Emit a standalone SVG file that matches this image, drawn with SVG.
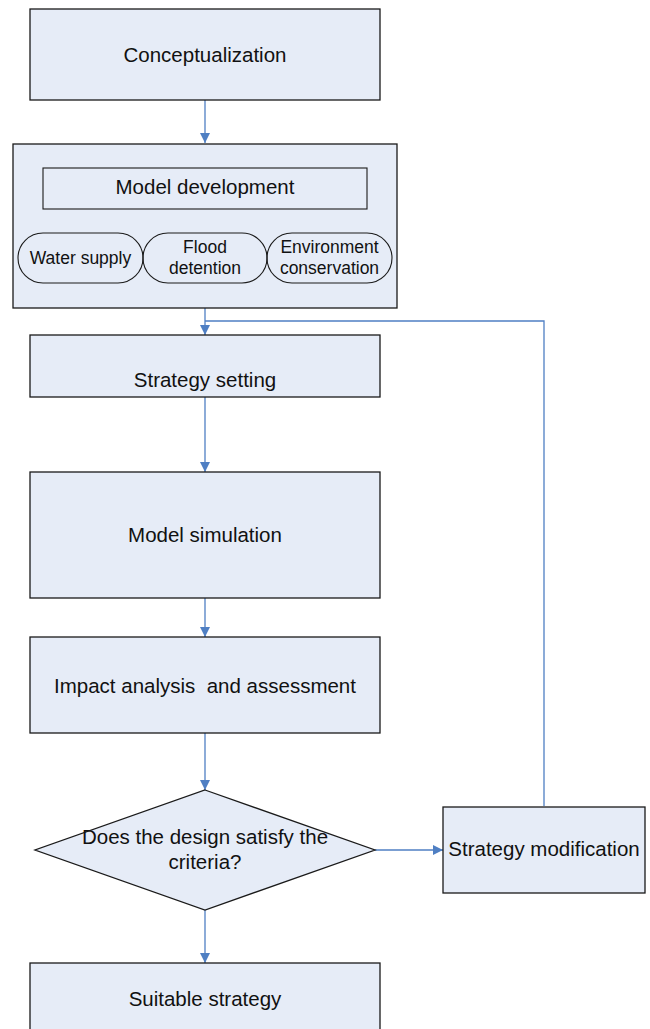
<svg xmlns="http://www.w3.org/2000/svg" width="650" height="1029" viewBox="0 0 650 1029">
<style>
.box{fill:#E6ECF7;stroke:#1a1a1a;stroke-width:1.3}
.inner{fill:none;stroke:#1a1a1a;stroke-width:1.1}
.t{font-family:"Liberation Sans",Arial,sans-serif;font-size:20.5px;fill:#111;text-anchor:middle;white-space:pre}
.s{font-family:"Liberation Sans",Arial,sans-serif;font-size:17.5px;fill:#111;text-anchor:middle}
.c{fill:none;stroke:#4F7FC3;stroke-width:1.3}
</style>
<defs>
<marker id="ah" viewBox="0 0 10 10" refX="10" refY="5" markerWidth="10" markerHeight="10" markerUnits="userSpaceOnUse" orient="auto">
<path d="M0,0 L10,5 L0,10 Z" fill="#4F7FC3"/>
</marker>
</defs>
<rect width="650" height="1029" fill="#fff"/>
<g id="connectors">
<line class="c" x1="205" y1="100" x2="205" y2="143" marker-end="url(#ah)"/>
<line class="c" x1="205" y1="308" x2="205" y2="335" marker-end="url(#ah)"/>
<polyline class="c" points="544,806 544,321 205,321"/>
<line class="c" x1="205" y1="397" x2="205" y2="472" marker-end="url(#ah)"/>
<line class="c" x1="205" y1="598" x2="205" y2="637" marker-end="url(#ah)"/>
<line class="c" x1="205" y1="733" x2="205" y2="790" marker-end="url(#ah)"/>
<line class="c" x1="375" y1="850" x2="443" y2="850" marker-end="url(#ah)"/>
<line class="c" x1="205" y1="910" x2="205" y2="963" marker-end="url(#ah)"/>
</g>
<g id="conceptualization">
<rect class="box" x="30" y="9" width="350" height="91"/>
<text class="t" x="205" y="62">Conceptualization</text>
</g>
<g id="model-development">
<rect class="box" x="13" y="144" width="384" height="164"/>
<rect class="inner" x="43" y="168" width="324" height="41"/>
<text class="t" x="205" y="194">Model development</text>
</g>
<g id="water-supply">
<rect class="inner" x="18" y="233" width="125" height="50" rx="25" ry="25"/>
<text class="s" x="80.5" y="264">Water supply</text>
</g>
<g id="flood-detention">
<rect class="inner" x="143" y="233" width="124" height="50" rx="25" ry="25"/>
<text class="s" x="205" y="253">Flood</text>
<text class="s" x="205" y="274">detention</text>
</g>
<g id="environment-conservation">
<rect class="inner" x="267" y="233" width="125" height="50" rx="25" ry="25"/>
<text class="s" x="329.5" y="253">Environment</text>
<text class="s" x="329.5" y="274">conservation</text>
</g>
<g id="strategy-setting">
<rect class="box" x="30" y="335" width="350" height="62"/>
<text class="t" x="205" y="387">Strategy setting</text>
</g>
<g id="model-simulation">
<rect class="box" x="30" y="472" width="350" height="126"/>
<text class="t" x="205" y="542">Model simulation</text>
</g>
<g id="impact-analysis">
<rect class="box" x="30" y="637" width="350" height="96"/>
<text class="t" x="205" y="693">Impact analysis  and assessment</text>
</g>
<g id="decision">
<polygon class="box" points="205,790 375,850 205,910 35,850"/>
<text class="t" x="205" y="844">Does the design satisfy the</text>
<text class="t" x="205" y="869">criteria?</text>
</g>
<g id="strategy-modification">
<rect class="box" x="443" y="807" width="202" height="86"/>
<text class="t" x="544" y="856">Strategy modification</text>
</g>
<g id="suitable-strategy">
<rect class="box" x="30" y="963" width="350" height="80"/>
<text class="t" x="205" y="1006">Suitable strategy</text>
</g>
</svg>
